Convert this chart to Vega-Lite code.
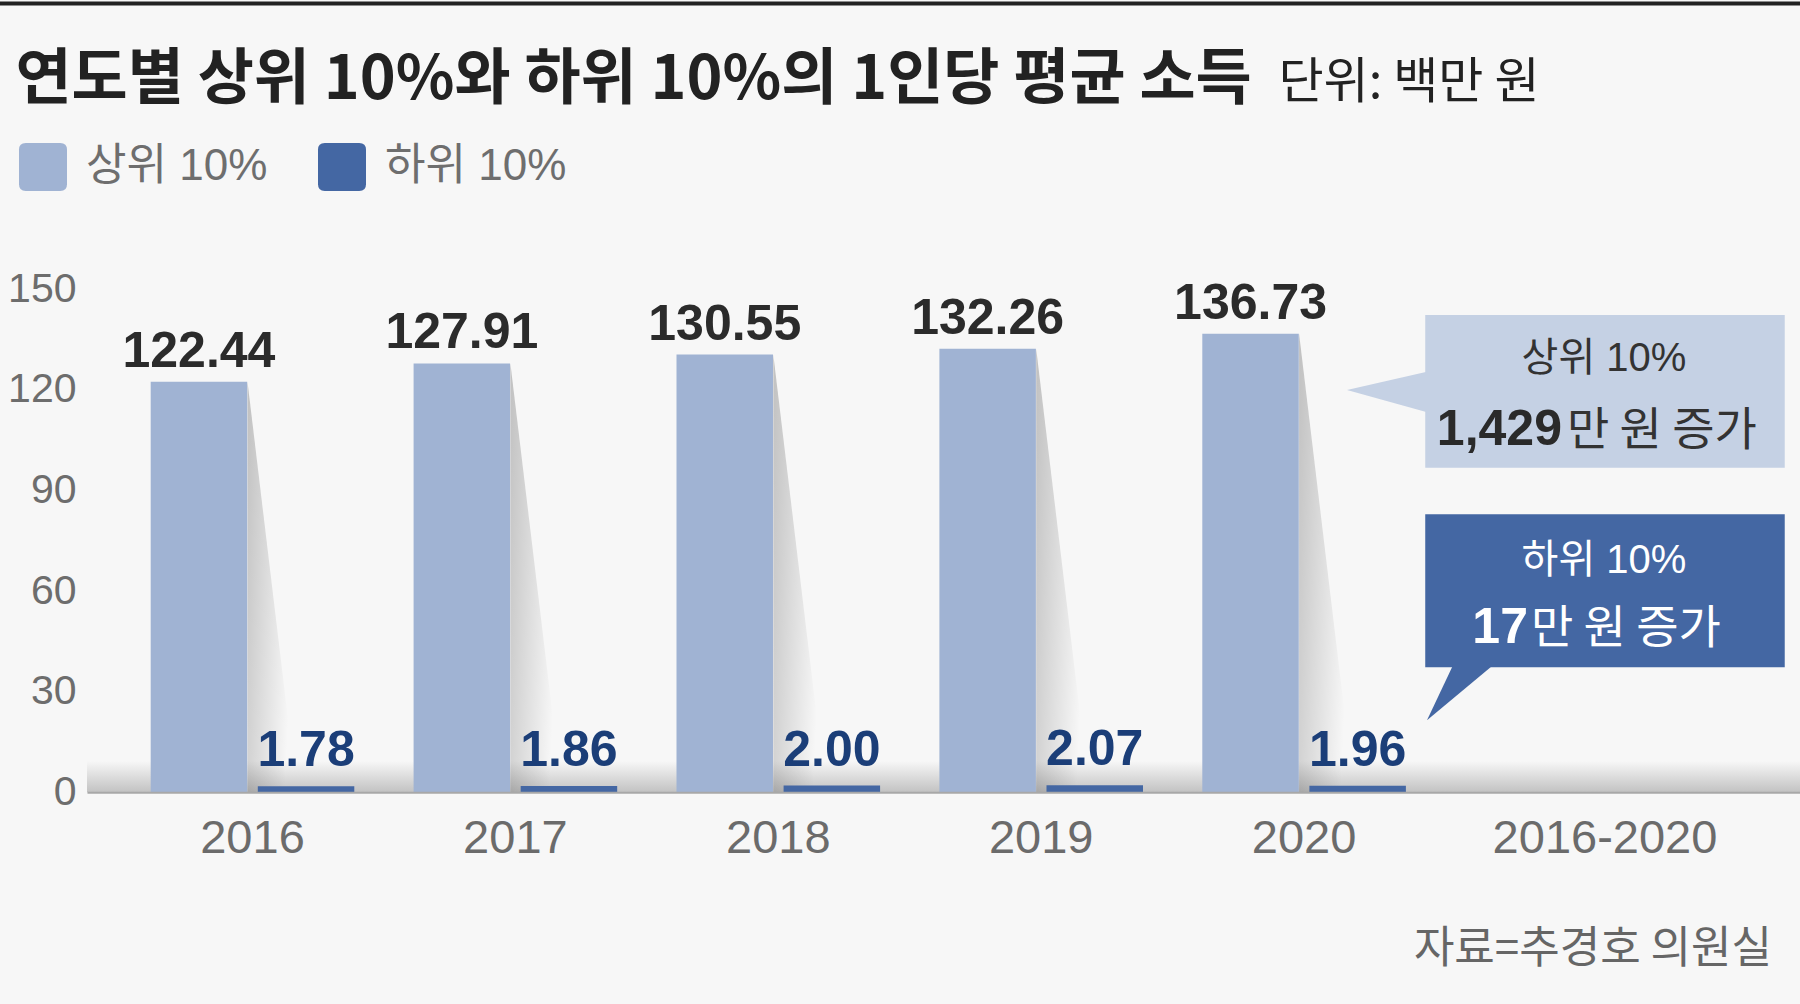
{
  "$schema": "https://vega.github.io/schema/vega-lite/v6.json",
  "width": 1713,
  "height": 503,
  "autosize": {"type": "none"},
  "padding": {"left": 87, "top": 289.3, "right": 0, "bottom": 211.7},
  "background": "#f7f7f7",
  "config": {"view": {"stroke": null}},
  "title": {
    "text": "자료=추경호 의원실",
    "orient": "bottom",
    "anchor": "end",
    "frame": "group",
    "baseline": "alphabetic",
    "offset": 102,
    "dx": -28,
    "font": "Noto Sans CJK KR",
    "fontSize": 44,
    "fontWeight": "normal",
    "color": "#666666"
  },
  "data": {
    "values": [
      {"kind": "annual", "year": "2016", "series": "상위 10%", "value": 122.44},
      {"kind": "annual", "year": "2016", "series": "하위 10%", "value": 1.78},
      {"kind": "annual", "year": "2017", "series": "상위 10%", "value": 127.91},
      {"kind": "annual", "year": "2017", "series": "하위 10%", "value": 1.86},
      {"kind": "annual", "year": "2018", "series": "상위 10%", "value": 130.55},
      {"kind": "annual", "year": "2018", "series": "하위 10%", "value": 2.00},
      {"kind": "annual", "year": "2019", "series": "상위 10%", "value": 132.26},
      {"kind": "annual", "year": "2019", "series": "하위 10%", "value": 2.07},
      {"kind": "annual", "year": "2020", "series": "상위 10%", "value": 136.73},
      {"kind": "annual", "year": "2020", "series": "하위 10%", "value": 1.96},
      {"kind": "change", "year": "2016-2020", "series": "상위 10%", "value": 14.29, "amount": "1,429", "unit": "만 원 증가"},
      {"kind": "change", "year": "2016-2020", "series": "하위 10%", "value": 0.17, "amount": "17", "unit": "만 원 증가"}
    ]
  },
  "layer": [
    {
      "transform": [{"filter": "datum.kind === 'change' && datum.series === '상위 10%'"}],
      "mark": {"type": "rect", "fill": {"gradient": "linear", "x1": 0, "y1": 0, "x2": 0, "y2": 1, "stops": [{"offset": 0, "color": "#f7f7f7"}, {"offset": 1, "color": "#c2c2c2"}]}},
      "encoding": {
        "y": {"datum": 9.3, "type": "quantitative"},
        "y2": {"datum": 0}
      }
    },
    {
      "transform": [{"filter": "datum.kind === 'annual' && datum.series === '상위 10%'"}],
      "mark": {
        "type": "point",
        "shape": "M0,-2L0,0L0.24,0Z",
        "filled": true,
        "fill": {"gradient": "linear", "x1": 0, "y1": 0, "x2": 1, "y2": 0.4, "stops": [{"offset": 0, "color": "rgba(0,0,0,0.22)"}, {"offset": 1, "color": "rgba(0,0,0,0)"}]},
        "strokeWidth": 0,
        "opacity": 1,
        "xOffset": -5
      },
      "encoding": {
        "x": {"field": "year", "type": "nominal"},
        "y": {"datum": 0, "type": "quantitative"},
        "size": {
          "field": "value",
          "type": "quantitative",
          "scale": {"type": "pow", "exponent": 2, "domain": [0, 150], "range": [0, 253009]},
          "legend": null
        }
      }
    },
    {
      "transform": [{"filter": "datum.kind === 'annual'"}],
      "mark": {"type": "bar"},
      "encoding": {
        "x": {
          "field": "year",
          "type": "nominal",
          "scale": {
            "domain": ["2016", "2017", "2018", "2019", "2020", "2016-2020"],
            "paddingInner": 0.2256,
            "paddingOuter": 0.3707,
            "align": 0.3268
          },
          "axis": {
            "labelAngle": 0,
            "labelAlign": "center",
            "labelBaseline": "top",
            "domainColor": "#a8a8a8",
            "domainWidth": 2,
            "ticks": false,
            "labelFont": "Liberation Sans, sans-serif",
            "labelFontSize": 47,
            "labelColor": "#6b6b6b",
            "labelPadding": 23,
            "labelLimit": 600,
            "labelOffset": {"condition": {"test": "datum.value === '2016-2020'", "value": 38}, "value": 0},
            "zindex": 1,
            "title": "연도별 상위 10%와 하위 10%의 1인당 평균 소득",
            "titleX": -72,
            "titleY": -694.3,
            "titleAlign": "left",
            "titleBaseline": "alphabetic",
            "titleFont": "Noto Sans CJK KR",
            "titleFontSize": 61,
            "titleFontWeight": "bold",
            "titleColor": "#222222",
            "titleLimit": 2000
          }
        },
        "y": {
          "field": "value",
          "type": "quantitative",
          "scale": {"domain": [0, 150], "nice": false},
          "axis": {
            "values": [0, 30, 60, 90, 120, 150],
            "domain": false,
            "ticks": false,
            "labelPadding": 11,
            "labelFont": "Liberation Sans, sans-serif",
            "labelFontSize": 41,
            "labelColor": "#6d6d6d",
            "gridColor": "#b0b0b0",
            "gridDash": [7, 5],
            "gridWidth": 1.5,
            "title": "단위: 백만 원",
            "titleX": 1191,
            "titleY": -192,
            "titleAngle": 0,
            "titleAlign": "left",
            "titleBaseline": "alphabetic",
            "titleFont": "Noto Sans CJK KR",
            "titleFontSize": 49,
            "titleFontWeight": "normal",
            "titleColor": "#222222",
            "titleLimit": 1000
          }
        },
        "xOffset": {
          "field": "series",
          "type": "nominal",
          "scale": {"domain": ["상위 10%", "하위 10%"], "paddingInner": 0.099, "paddingOuter": 0}
        },
        "color": {
          "field": "series",
          "type": "nominal",
          "scale": {"domain": ["상위 10%", "하위 10%"], "range": ["#a0b3d3", "#4467a3"]},
          "legend": {
            "title": null,
            "orient": "none",
            "legendX": -68,
            "legendY": -146.3,
            "direction": "horizontal",
            "padding": 0,
            "symbolType": "M-0.72,-1L0.72,-1Q1,-1 1,-0.72L1,0.72Q1,1 0.72,1L-0.72,1Q-1,1 -1,0.72L-1,-0.72Q-1,-1 -0.72,-1Z",
            "symbolSize": 2304,
            "symbolStrokeWidth": 0,
            "symbolOpacity": 1,
            "labelFont": "Liberation Sans, Noto Sans CJK KR, sans-serif",
            "labelFontSize": 44,
            "labelColor": "#6e6e6e",
            "labelOffset": 19,
            "labelLimit": 500,
            "columnPadding": 50
          }
        }
      }
    },
    {
      "transform": [{"filter": "datum.kind === 'annual' && datum.series === '상위 10%'"}],
      "mark": {"type": "text", "baseline": "alphabetic", "dy": -15, "font": "Liberation Sans, sans-serif", "fontSize": 50, "fontWeight": "bold", "color": "#2b2b2b"},
      "encoding": {
        "x": {"field": "year", "type": "nominal"},
        "xOffset": {"field": "series", "type": "nominal"},
        "y": {"field": "value", "type": "quantitative"},
        "text": {"field": "value", "type": "quantitative", "format": ".2f"}
      }
    },
    {
      "transform": [{"filter": "datum.kind === 'annual' && datum.series === '하위 10%'"}],
      "mark": {"type": "text", "baseline": "alphabetic", "dy": -20, "font": "Liberation Sans, sans-serif", "fontSize": 50, "fontWeight": "bold", "color": "#1b3e78"},
      "encoding": {
        "x": {"field": "year", "type": "nominal"},
        "xOffset": {"field": "series", "type": "nominal"},
        "y": {"field": "value", "type": "quantitative"},
        "text": {"field": "value", "type": "quantitative", "format": ".2f"}
      }
    },
    {
      "transform": [{"filter": "datum.kind === 'change' && datum.series === '상위 10%'"}],
      "mark": {"type": "rect", "width": 359.5, "xOffset": 38, "fill": "#c5d1e4"},
      "encoding": {
        "x": {"field": "year", "type": "nominal"},
        "y": {"datum": 142.35, "type": "quantitative"},
        "y2": {"datum": 96.8}
      }
    },
    {
      "transform": [{"filter": "datum.kind === 'change' && datum.series === '하위 10%'"}],
      "mark": {"type": "rect", "width": 359.5, "xOffset": 38, "fill": "#4467a3"},
      "encoding": {
        "x": {"field": "year", "type": "nominal"},
        "y": {"datum": 82.9, "type": "quantitative"},
        "y2": {"datum": 37.3}
      }
    },
    {
      "transform": [{"filter": "datum.kind === 'change' && datum.series === '상위 10%'"}],
      "mark": {"type": "point", "shape": "M-220,0L-139,-18.5L-139,22.5Z", "size": 4, "filled": true, "fill": "#c5d1e4", "strokeWidth": 0, "opacity": 1},
      "encoding": {
        "x": {"field": "year", "type": "nominal"},
        "y": {"datum": 120, "type": "quantitative"}
      }
    },
    {
      "transform": [{"filter": "datum.kind === 'change' && datum.series === '하위 10%'"}],
      "mark": {"type": "point", "shape": "M-114,-2L-74,-2L-140,53Z", "size": 4, "filled": true, "fill": "#4467a3", "strokeWidth": 0, "opacity": 1},
      "encoding": {
        "x": {"field": "year", "type": "nominal"},
        "y": {"datum": 37.3, "type": "quantitative"}
      }
    },
    {
      "transform": [{"filter": "datum.kind === 'change' && datum.series === '상위 10%'"}],
      "mark": {"type": "text", "align": "center", "baseline": "alphabetic", "xOffset": 37, "font": "Liberation Sans, Noto Sans CJK KR, sans-serif", "fontSize": 40, "color": "#333333"},
      "encoding": {
        "x": {"field": "year", "type": "nominal"},
        "y": {"datum": 125.5, "type": "quantitative"},
        "text": {"field": "series", "type": "nominal"}
      }
    },
    {
      "transform": [{"filter": "datum.kind === 'change' && datum.series === '상위 10%'"}],
      "mark": {"type": "text", "align": "right", "baseline": "alphabetic", "xOffset": -5, "font": "Liberation Sans, sans-serif", "fontSize": 50, "fontWeight": "bold", "color": "#2a2a2a"},
      "encoding": {
        "x": {"field": "year", "type": "nominal"},
        "y": {"datum": 103.6, "type": "quantitative"},
        "text": {"field": "amount", "type": "nominal"}
      }
    },
    {
      "transform": [{"filter": "datum.kind === 'change' && datum.series === '상위 10%'"}],
      "mark": {"type": "text", "align": "left", "baseline": "alphabetic", "xOffset": 0, "font": "Noto Sans CJK KR", "fontSize": 46, "color": "#333333"},
      "encoding": {
        "x": {"field": "year", "type": "nominal"},
        "y": {"datum": 103.6, "type": "quantitative"},
        "text": {"field": "unit", "type": "nominal"}
      }
    },
    {
      "transform": [{"filter": "datum.kind === 'change' && datum.series === '하위 10%'"}],
      "mark": {"type": "text", "align": "center", "baseline": "alphabetic", "xOffset": 37, "font": "Liberation Sans, Noto Sans CJK KR, sans-serif", "fontSize": 40, "color": "#ffffff"},
      "encoding": {
        "x": {"field": "year", "type": "nominal"},
        "y": {"datum": 65.5, "type": "quantitative"},
        "text": {"field": "series", "type": "nominal"}
      }
    },
    {
      "transform": [{"filter": "datum.kind === 'change' && datum.series === '하위 10%'"}],
      "mark": {"type": "text", "align": "right", "baseline": "alphabetic", "xOffset": -39, "font": "Liberation Sans, sans-serif", "fontSize": 50, "fontWeight": "bold", "color": "#ffffff"},
      "encoding": {
        "x": {"field": "year", "type": "nominal"},
        "y": {"datum": 44.5, "type": "quantitative"},
        "text": {"field": "amount", "type": "nominal"}
      }
    },
    {
      "transform": [{"filter": "datum.kind === 'change' && datum.series === '하위 10%'"}],
      "mark": {"type": "text", "align": "left", "baseline": "alphabetic", "xOffset": -36, "font": "Noto Sans CJK KR", "fontSize": 46, "color": "#ffffff"},
      "encoding": {
        "x": {"field": "year", "type": "nominal"},
        "y": {"datum": 44.5, "type": "quantitative"},
        "text": {"field": "unit", "type": "nominal"}
      }
    },
    {
      "transform": [{"filter": "datum.kind === 'annual' && datum.year === '2016' && datum.series === '상위 10%'"}],
      "mark": {"type": "rule", "color": "#222222", "strokeWidth": 4},
      "encoding": {
        "x": {"field": "year", "type": "nominal", "bandPosition": -1},
        "x2": {"value": "width"},
        "y": {"datum": 235.25, "type": "quantitative"}
      }
    }
  ]
}
